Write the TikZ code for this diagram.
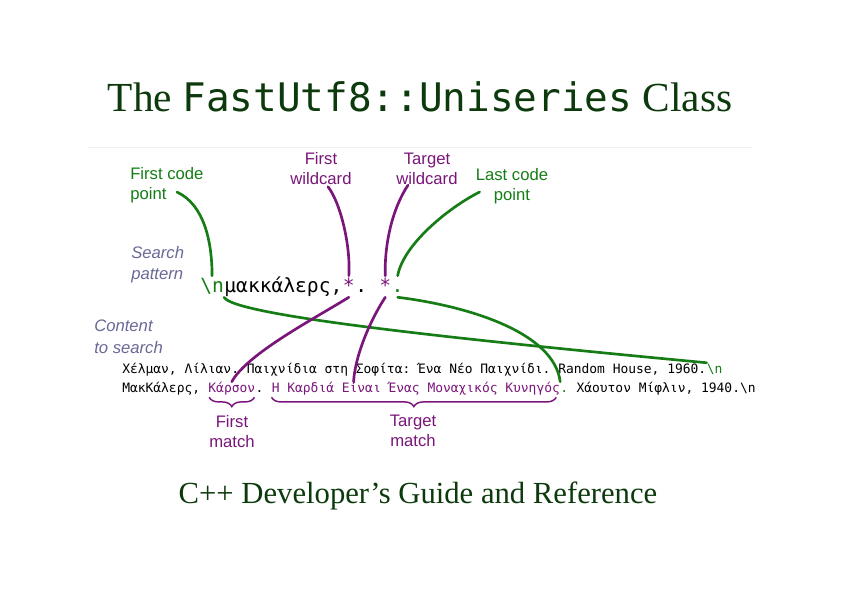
\documentclass[tikz,border=0pt]{standalone}
\usepackage{fontspec}
\setmainfont{Liberation Serif}
\setsansfont{Liberation Sans}
\setmonofont{DejaVu Sans Mono}
\usepackage{tikz}
\usetikzlibrary{calc, decorations.pathreplacing}

\definecolor{titlegreen}{RGB}{12,58,12}
\definecolor{codegreen}{RGB}{22,125,22}
\definecolor{codepurple}{RGB}{122,22,122}
\definecolor{notegray}{RGB}{105,105,150}

\tikzset{
  lbl/.style={font=\fontsize{12.5}{15}\selectfont\sffamily, inner sep=0, align=center},
  note/.style={font=\fontsize{12.5}{15.5}\selectfont\sffamily\itshape, text=notegray, inner sep=0, align=left},
  pat/.style={font=\fontsize{14.7}{18}\selectfont\ttfamily, inner sep=0, text height=12pt, text depth=3.75pt, anchor=base west},
  txt/.style={font=\fontsize{9.7}{12}\selectfont\ttfamily, inner sep=0, text height=7.5pt, text depth=2.25pt, anchor=base west},
  gline/.style={codegreen, line width=2pt, line cap=round},
  pline/.style={codepurple, line width=2pt, line cap=round},
  brc/.style={codepurple, line width=1.1pt, decorate, decoration={brace, mirror, amplitude=7pt}},
}

\begin{document}
\begin{tikzpicture}[x=0.75pt, y=-0.75pt]
\fill[white] (0,0) rectangle (861,600);
\useasboundingbox (0,0) rectangle (861,600);

\node[font=\fontsize{31}{36}\selectfont, text=titlegreen, anchor=base] (title) at (420,111)
  {The {\fontsize{29.5}{36}\selectfont\ttfamily FastUtf8::Uniseries} Class};
\draw[black!6, line width=0.75pt] (88,147) -- (752,147);

% labels
\node[lbl, text=codegreen, align=left, anchor=north west] (fcp) at (130,167) {First code\\point};
\node[lbl, text=codepurple, anchor=north] (fwc) at (321,152) {First\\wildcard};
\node[lbl, text=codepurple, anchor=north] (twc) at (427,153) {Target\\wildcard};
\node[lbl, text=codegreen, anchor=north] (lcp) at (512,168) {Last code\\point};
\node[note, anchor=north west] (srch) at (131,246) {Search\\pattern};
\node[note, font=\fontsize{12.5}{16.5}\selectfont\sffamily\itshape, anchor=north west] (cnt) at (94,320) {Content\\to search};

% search pattern
\node[pat, text=codegreen] (pnl) at (200,292) {\textbackslash n};
\node[pat] (pmid) at (pnl.base east) {μακκάλερς,};
\node[pat, text=codepurple] (pst1) at (pmid.base east) {*};
\node[pat] (pdot1) at (pst1.base east) {.\ \mbox{}};
\node[pat, text=codepurple] (pst2) at (pdot1.base east) {*};
\node[pat, text=codegreen] (pdot2) at (pst2.base east) {.};

% content
\node[txt] (c1a) at (122,373) {Χέλμαν, Λίλιαν. Παιχνίδια στη Σοφίτα: Ένα Νέο Παιχνίδι. Random House, 1960.};
\node[txt, text=codegreen] (c1nl) at (c1a.base east) {\textbackslash n};
\node[txt] (c2a) at (122,392) {ΜακΚάλερς,\ \mbox{}};
\node[txt, text=codepurple] (c2m1) at (c2a.base east) {Κάρσον};
\node[txt] (c2b) at (c2m1.base east) {.\ \mbox{}};
\node[txt, text=codepurple] (c2m2) at (c2b.base east) {Η Καρδιά Είναι Ένας Μοναχικός Κυνηγός};
\node[txt, text=codegreen] (c2dot) at (c2m2.base east) {.};
\node[txt] (c2c) at (c2dot.base east) {\mbox{}\ Χάουτον Μίφλιν, 1940.\textbackslash n};
\coordinate (tgtmid) at ($(c2m2.north west)+(82,0)$);

% matches
\draw[brc] ($(c2m1.south west)+(1,2)$) -- ($(c2m1.south east)+(-1,2)$);
\draw[brc] ($(c2m2.south west)+(0,2)$) -- ($(c2m2.south east)+(-4,2)$);
\node[lbl, text=codepurple, anchor=north] (fm) at (232,415) {First\\match};
\node[lbl, text=codepurple, anchor=north] (tm) at (413,415) {Target\\match};

% code points
\draw[gline] ($(fcp.south west)+(47,-11)$) .. controls +(28,13) and +(0,-32) .. (pnl.north);
\draw[gline] (pnl.south east) .. controls +(9,18) and +(-255,-24) .. (c1nl.north west);
\draw[gline] ($(lcp.west)+(4,6)$) .. controls +(-30,15) and +(6,-32) .. (pdot2.north);
\draw[gline] (pdot2.south) .. controls +(72,9) and +(-6,-49) .. (c2dot.north west);
% wildcards
\draw[pline] ($(fwc.south)+(7,2)$) .. controls +(12,15) and +(2,-31) .. (pst1.north);
\draw[pline] (pst1.south) .. controls +(-32,20) and +(15,-28) .. (c2m1.north);
\draw[pline] ($(twc.south)+(-19,0)$) .. controls +(-16,24) and +(-1,-31) .. (pst2.north);
\draw[pline] (pst2.south) .. controls +(-12,18) and +(2,-30) .. (tgtmid);

\node[font=\fontsize{23}{28}\selectfont, text=titlegreen, anchor=base] (subtitle) at (418,503)
  {C++ Developer’s Guide and Reference};
\end{tikzpicture}
\end{document}
